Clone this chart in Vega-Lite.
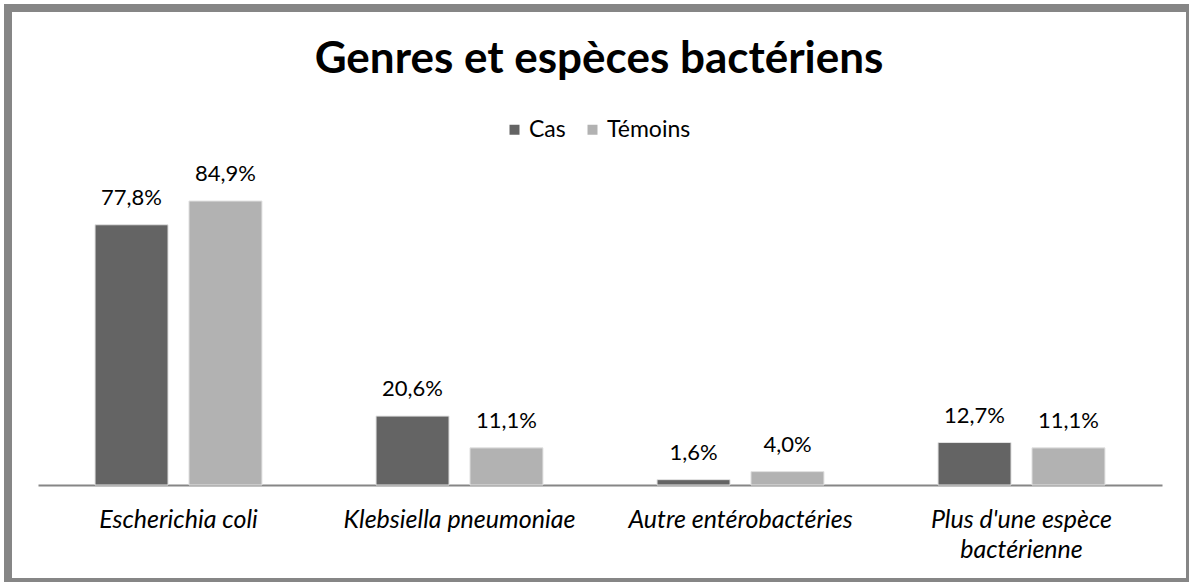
{
  "$schema": "https://vega.github.io/schema/vega-lite/v6.json",
  "autosize": "none",
  "width": 1182,
  "height": 574,
  "padding": {"left": 8, "top": 8, "right": 0, "bottom": 0},
  "background": "white",
  "title": {
    "text": "Genres et espèces bactériens",
    "font": "Lato",
    "fontSize": 44,
    "fontWeight": "bold",
    "color": "black",
    "anchor": "middle",
    "frame": "group",
    "orient": "top",
    "baseline": "alphabetic",
    "offset": -109
  },
  "data": {
    "values": [
      {"categorie": "Escherichia coli", "groupe": "Cas", "valeur": 0.778},
      {"categorie": "Escherichia coli", "groupe": "Témoins", "valeur": 0.849},
      {"categorie": "Klebsiella pneumoniae", "groupe": "Cas", "valeur": 0.206},
      {"categorie": "Klebsiella pneumoniae", "groupe": "Témoins", "valeur": 0.111},
      {"categorie": "Autre entérobactéries", "groupe": "Cas", "valeur": 0.016},
      {"categorie": "Autre entérobactéries", "groupe": "Témoins", "valeur": 0.04},
      {"categorie": "Plus d'une espèce bactérienne", "groupe": "Cas", "valeur": 0.127},
      {"categorie": "Plus d'une espèce bactérienne", "groupe": "Témoins", "valeur": 0.111}
    ]
  },
  "encoding": {
    "x": {
      "field": "categorie",
      "type": "nominal",
      "sort": null,
      "scale": {"range": [30, 1154], "paddingInner": 0.406, "paddingOuter": 0.203},
      "axis": {
        "title": null,
        "orient": "bottom",
        "offset": -97,
        "labelAngle": 0,
        "labelFont": "Lato",
        "labelFontSize": 25,
        "labelFontStyle": "italic",
        "labelColor": "black",
        "labelPadding": 22,
        "labelBaseline": "top",
        "labelLineHeight": 30,
        "labelLimit": 0,
        "labelExpr": "datum.label == \"Plus d'une espèce bactérienne\" ? [\"Plus d'une espèce\", \"bactérienne\"] : datum.label",
        "ticks": false,
        "domainColor": "#868686",
        "domainWidth": 2,
        "grid": false
      }
    },
    "xOffset": {
      "field": "groupe",
      "type": "nominal",
      "sort": ["Cas", "Témoins"],
      "scale": {"paddingInner": 0.223, "paddingOuter": 0}
    },
    "y": {
      "field": "valeur",
      "type": "quantitative",
      "scale": {"domain": [0, 1], "range": [477, 142.5], "nice": false, "zero": true},
      "axis": null
    }
  },
  "layer": [
    {
      "mark": {"type": "bar", "stroke": "#e2e2e2", "strokeWidth": 1},
      "encoding": {
        "color": {
          "field": "groupe",
          "type": "nominal",
          "sort": ["Cas", "Témoins"],
          "scale": {"domain": ["Cas", "Témoins"], "range": ["#646464", "#b2b2b2"]},
          "legend": {
            "title": null,
            "orient": "none",
            "direction": "horizontal",
            "legendX": 495,
            "legendY": 110,
            "padding": 0,
            "symbolType": "square",
            "symbolSize": 100,
            "symbolStrokeWidth": 0,
            "labelFont": "Lato",
            "labelFontSize": 23,
            "labelColor": "black",
            "labelOffset": 3,
            "columnPadding": 15
          }
        }
      }
    },
    {
      "mark": {"type": "text", "font": "Lato", "fontSize": 22, "color": "black", "baseline": "alphabetic", "dy": -20},
      "encoding": {
        "text": {"field": "valeur", "type": "quantitative", "format": ".1%"}
      }
    }
  ],
  "config": {
    "locale": {
      "number": {"decimal": ",", "thousands": " ", "grouping": [3], "currency": ["", " €"]}
    },
    "view": {"stroke": "#868686", "strokeWidth": 8, "fill": "white"}
  }
}
